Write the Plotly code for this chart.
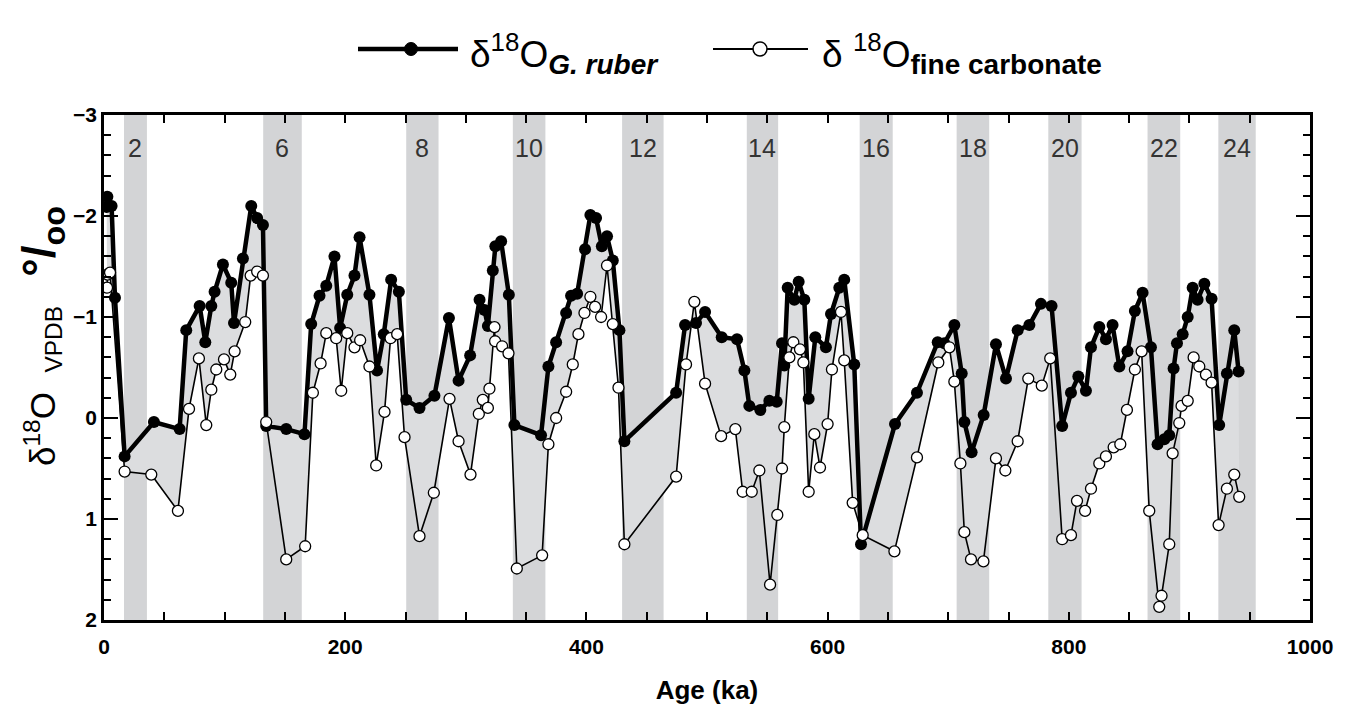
import plotly.graph_objects as go

# ---------------- data ----------------
ruber_age = [2.2, 2.8, 6.3, 9.1, 17.1, 41.4, 62.7, 68.2, 79.3, 84.0, 89.0, 91.7, 98.6, 105.5,
             107.8, 115.2, 122.1, 127.0, 131.8, 134.5, 151.1, 166.2, 171.8, 178.7, 184.3,
             191.1, 195.8, 201.7, 207.7, 211.9, 220.1, 226.4, 232.0, 238.1, 244.5, 250.6,
             261.6, 274.0, 286.0, 294.0, 303.6, 311.4, 315.5, 318.3, 322.4, 324.5, 329.3,
             335.7, 340.3, 362.4, 368.5, 374.9, 383.2, 387.3, 392.3, 398.9, 403.3, 408.0,
             412.8, 417.1, 421.9, 427.4, 431.5, 474.4, 481.8, 490.9, 498.4, 512.2, 524.9,
             531.0, 535.1, 544.2, 551.7, 557.8, 562.2, 564.1, 566.9, 572.4, 576.0, 580.7,
             584.3, 589.8, 598.6, 602.8, 609.7, 613.8, 622.1, 627.7, 655.9, 674.1, 691.3,
             696.8, 705.1, 711.2, 713.4, 719.4, 729.4, 739.6, 747.9, 757.6, 767.3, 776.9,
             785.7, 794.5, 801.8, 807.9, 814.2, 818.4, 825.3, 830.8, 836.3, 841.9, 848.7,
             854.8, 861.2, 868.1, 873.6, 879.2, 883.3, 886.9, 889.7, 894.4, 898.6, 902.7,
             906.8, 912.4, 918.4, 924.7, 931.1, 937.2, 940.8]
ruber_d18o = [-2.09, -2.19, -2.10, -1.19, 0.38, 0.04, 0.11, -0.87, -1.11, -0.75, -1.11, -1.25,
              -1.52, -1.34, -0.94, -1.58, -2.10, -1.98, -1.91, 0.08, 0.11, 0.16, -0.93, -1.21,
              -1.31, -1.60, -0.89, -1.22, -1.41, -1.79, -1.22, -0.47, -0.83, -1.37, -1.25,
              -0.18, -0.10, -0.22, -0.99, -0.37, -0.62, -1.17, -1.07, -0.91, -1.46, -1.70,
              -1.75, -1.22, 0.07, 0.17, -0.51, -0.75, -1.04, -1.21, -1.23, -1.67, -2.01,
              -1.98, -1.70, -1.80, -1.56, -0.87, 0.23, -0.25, -0.92, -0.94, -1.05, -0.80,
              -0.78, -0.47, -0.12, -0.08, -0.17, -0.16, -0.74, -0.52, -1.29, -1.17, -1.35,
              -1.17, -0.19, -0.80, -0.70, -1.03, -1.29, -1.37, -0.53, 1.25, 0.06, -0.25,
              -0.75, -0.74, -0.92, -0.44, 0.04, 0.34, -0.03, -0.73, -0.39, -0.87, -0.92,
              -1.13, -1.11, 0.08, -0.25, -0.41, -0.27, -0.70, -0.90, -0.78, -0.92, -0.51,
              -0.66, -1.06, -1.24, -0.70, 0.26, 0.21, 0.17, -0.49, -0.74, -0.83, -1.00,
              -1.29, -1.17, -1.33, -1.18, 0.07, -0.44, -0.87, -0.46]

fine_age = [2.5, 3.0, 5.0, 17.1, 39.2, 61.3, 70.5, 78.7, 84.8, 89.0, 93.1, 99.5, 104.7, 108.3,
            117.1, 121.6, 127.0, 131.8, 134.5, 151.1, 166.8, 173.2, 179.6, 184.3, 192.5, 196.7,
            201.7, 207.7, 212.4, 220.1, 225.7, 232.6, 237.6, 243.1, 249.2, 261.6, 273.5,
            286.5, 294.0, 303.9, 310.8, 314.1, 318.3, 319.6, 323.8, 324.3, 330.1, 335.4,
            342.3, 363.3, 368.5, 374.9, 383.2, 388.7, 393.4, 398.4, 403.3, 407.2, 412.2,
            417.1, 421.9, 426.6, 431.5, 474.4, 482.6, 489.5, 498.4, 511.7, 523.5, 529.6,
            537.1, 543.4, 552.3, 558.3, 562.2, 564.1, 568.3, 571.6, 577.1, 579.9, 584.3,
            589.0, 593.7, 600.0, 603.6, 611.1, 613.8, 620.8, 629.1, 655.4, 674.1, 691.8,
            701.0, 705.1, 710.1, 713.4, 718.9, 729.2, 739.6, 747.4, 757.6, 766.4, 777.6,
            784.6, 794.5, 801.8, 806.8, 813.5, 818.4, 825.3, 830.8, 837.2, 842.7, 848.2,
            854.8, 860.4, 866.7, 875.0, 876.9, 883.3, 886.1, 891.6, 893.5, 898.6, 903.5,
            908.2, 913.7, 918.4, 924.2, 931.1, 937.2, 941.3]
fine_d18o = [-1.29, -1.42, -1.44, 0.53, 0.56, 0.92, -0.09, -0.59, 0.07, -0.28, -0.48, -0.58,
             -0.43, -0.66, -0.95, -1.41, -1.45, -1.41, 0.04, 1.40, 1.27, -0.25, -0.54, -0.84,
             -0.79, -0.27, -0.84, -0.70, -0.77, -0.51, 0.47, -0.06, -0.79, -0.83, 0.19, 1.17,
             0.74, -0.19, 0.23, 0.56, -0.04, -0.18, -0.10, -0.29, -0.90, -0.76, -0.71, -0.64,
             1.49, 1.36, 0.26, 0.00, -0.26, -0.53, -0.83, -1.04, -1.20, -1.10, -1.00, -1.51,
             -0.93, -0.30, 1.25, 0.58, -0.53, -1.15, -0.34, 0.18, 0.11, 0.73, 0.73, 0.52,
             1.65, 0.96, 0.50, 0.09, -0.60, -0.75, -0.68, -0.55, 0.73, 0.16, 0.49, 0.06,
             -0.48, -1.05, -0.57, 0.84, 1.16, 1.32, 0.39, -0.55, -0.70, -0.36, 0.45, 1.13,
             1.40, 1.42, 0.40, 0.52, 0.23, -0.39, -0.32, -0.59, 1.20, 1.16, 0.82, 0.92, 0.70,
             0.45, 0.38, 0.29, 0.26, -0.08, -0.48, -0.66, 0.92, 1.87, 1.76, 1.25, 0.35, 0.05,
             -0.12, -0.17, -0.60, -0.51, -0.43, -0.35, 1.06, 0.70, 0.56, 0.78]

mis_labels = ["2", "6", "8", "10", "12", "14", "16", "18", "20", "22", "24"]
mis_start = [16.6, 132.0, 250.6, 339.0, 429.6, 533.0, 626.6, 707.0, 783.0, 865.3, 924.0]
mis_end = [35.6, 164.0, 277.4, 366.0, 464.0, 559.0, 654.0, 734.0, 810.6, 892.4, 955.0]
mis_label_y = -2.67

series_names = ["δ<sup>18</sup>O<sub><b><i><span style='font-size:28px'>G. ruber</span></i></b></sub>",
                "δ <sup>18</sup>O<sub><b><span style='font-size:28px'>fine carbonate</span></b></sub>"]

x_ticks = [0, 200, 400, 600, 800, 1000]
y_ticks = [-3, -2, -1, 0, 1, 2]

FONT = "Liberation Sans"
BAND = "#d3d4d6"
FILL = "#dcdddf"

# plot-area geometry (pixels) used to place legend / y title in paper coordinates
W, H = 1362, 722
ML, MR, MT, MB = 96, 60, 107, 110
PW, PH = W - ML - MR, H - MT - MB


def px(xpix):
    return (xpix - ML) / PW


def py(ypix):
    return 1 + (MT - ypix) / PH


fig = go.Figure()

# fill between curves
fig.add_trace(go.Scatter(x=fine_age, y=fine_d18o, mode="lines", line=dict(width=0, color=FILL),
                         showlegend=False, hoverinfo="skip"))
fig.add_trace(go.Scatter(x=ruber_age, y=ruber_d18o, mode="lines", line=dict(width=0, color=FILL),
                         fill="tonexty", fillcolor=FILL, showlegend=False, hoverinfo="skip"))

fig.add_trace(go.Scatter(
    x=ruber_age, y=ruber_d18o, mode="lines+markers", name="d18O G. ruber", showlegend=False,
    line=dict(color="black", width=4.5),
    marker=dict(symbol="circle", size=12, color="black", line=dict(width=0)),
))
fig.add_trace(go.Scatter(
    x=fine_age, y=fine_d18o, mode="lines+markers", name="d18O fine carbonate", showlegend=False,
    line=dict(color="black", width=1.6),
    marker=dict(symbol="circle", size=11, color="white", line=dict(width=1.3, color="black")),
))

for s, e, lab in zip(mis_start, mis_end, mis_labels):
    fig.add_shape(type="rect", xref="x", yref="paper", x0=s, x1=e, y0=0, y1=1,
                  fillcolor=BAND, line=dict(width=0), layer="below")
    fig.add_annotation(x=(s + e) / 2, y=mis_label_y, xref="x", yref="y", text=lab,
                       showarrow=False, font=dict(family=FONT, size=25, color="#333333"))

# ---- legend (drawn manually to get the long key lines of the original) ----
leg_y = py(41)
text_y = py(46)
fig.add_shape(type="line", xref="paper", yref="paper", x0=px(350), x1=px(450), y0=leg_y, y1=leg_y,
              line=dict(color="black", width=4.5))
fig.add_shape(type="circle", xref="paper", yref="paper", xsizemode="pixel", ysizemode="pixel",
              xanchor=px(403), yanchor=leg_y, x0=-6.5, x1=6.5, y0=-6.5, y1=6.5,
              fillcolor="black", line=dict(color="black", width=1))
fig.add_annotation(xref="paper", yref="paper", x=px(460), y=text_y, xanchor="left", yanchor="middle",
                   text=series_names[0], showarrow=False, font=dict(family=FONT, size=37, color="black"))
fig.add_shape(type="line", xref="paper", yref="paper", x0=px(705), x1=px(800), y0=leg_y, y1=leg_y,
              line=dict(color="black", width=1.8))
fig.add_shape(type="circle", xref="paper", yref="paper", xsizemode="pixel", ysizemode="pixel",
              xanchor=px(752), yanchor=leg_y, x0=-7, x1=7, y0=-7, y1=7,
              fillcolor="white", line=dict(color="black", width=1.5))
fig.add_annotation(xref="paper", yref="paper", x=px(812), y=text_y, xanchor="left", yanchor="middle",
                   text=series_names[1], showarrow=False, font=dict(family=FONT, size=37, color="black"))

# ---- y-axis title (annotation so that its position/size can follow the original) ----
fig.add_annotation(xref="paper", yref="paper", x=px(34), y=py(328), xanchor="center", yanchor="middle",
                   textangle=-90, showarrow=False,
                   text="δ<sup>18</sup>O&nbsp;&nbsp;<sub>VPDB</sub>&nbsp;&nbsp;&nbsp;"
                        "<b><span style='font-size:46px'>°/<sub>oo</sub></span></b>",
                   font=dict(family=FONT, size=35, color="black"))

fig.update_layout(
    width=W, height=H,
    margin=dict(l=ML, r=MR, t=MT, b=MB),
    paper_bgcolor="white", plot_bgcolor="white",
    font=dict(family=FONT, color="black"),
    showlegend=False,
)

fig.update_xaxes(range=[0, 1000], tickmode="array", tickvals=x_ticks,
                 ticks="inside", ticklen=8, tickwidth=2, tickcolor="black",
                 minor=dict(dtick=50, ticks="inside", ticklen=8, tickwidth=2, tickcolor="black"),
                 showline=True, linewidth=2.5, linecolor="black", mirror="ticks",
                 showgrid=False, zeroline=False, automargin=False, ticklabelstandoff=6,
                 tickfont=dict(family=FONT, size=21, weight="bold", color="black"),
                 title=dict(text="<b>Age (ka)</b>", font=dict(family=FONT, size=26), standoff=24))
fig.update_yaxes(range=[2, -3], tickmode="array", tickvals=y_ticks,
                 ticks="inside", ticklen=14, tickwidth=2, tickcolor="black",
                 minor=dict(dtick=0.2, ticks="inside", ticklen=7, tickwidth=2, tickcolor="black"),
                 showline=True, linewidth=2.5, linecolor="black", mirror="ticks",
                 showgrid=False, zeroline=False, automargin=False,
                 tickfont=dict(family=FONT, size=21, weight="bold", color="black"))

fig.write_html("out.html")
